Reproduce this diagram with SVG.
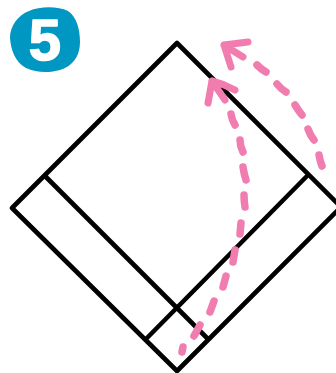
<svg xmlns="http://www.w3.org/2000/svg" width="336" height="373" viewBox="0 0 336 373">
<style>
.l{fill:none;stroke:#000;stroke-width:4.6;stroke-linecap:round;stroke-linejoin:round}
.p{fill:none;stroke:#f07cb0;stroke-width:7.5;stroke-linecap:round;stroke-linejoin:round}
.a{fill:none;stroke:#f07cb0;stroke-width:7;stroke-linecap:round;stroke-linejoin:round}
</style>
<rect width="336" height="373" fill="#fff"/>
<g id="badge">
<path d="M29 11C40 6 58 6 68 11C77 17 80 30 80 42C80 56 73 66 60 70C50 73 36 73 26 68C15 62 11 50 10 38C10 26 18 15 29 11Z" fill="#0098c3"/>
<text x="45" y="60" text-anchor="middle" font-family="'Liberation Sans',Arial,sans-serif" font-weight="700" font-size="58" fill="#fff" stroke="#fff" stroke-width="1.5" stroke-linejoin="round">5</text>
</g>
<g id="paper">
<path class="l" d="M177 43L341 207L177 371L12 208Z"/>
<path class="l" d="M45 176L208 339"/>
<path class="l" d="M308 175L146 339"/>
</g>
<g id="connectors">
<path class="p" d="M257 65Q261 69 266 72M277 84Q281 89 286 92M295 105Q298 110 302 115M308 129Q310 135 314 140M319 155Q320 161 322 166"/>
<path class="a" d="M248 42L224 45L231 67M224 45L243 57"/>
<path class="p" d="M231 114Q232 120 235 125M240 140Q240 146 243 152M243 167Q244 174 246 180M244 195Q244 201 245 207M241 223L240 234M235 250L233 262M226 276L223 287M214 301L210 312M200 325L194 336M183 347L182 352"/>
<path class="a" d="M235 90Q224 84 212 81L208 103M212 81L225 100"/>
</g>
</svg>
